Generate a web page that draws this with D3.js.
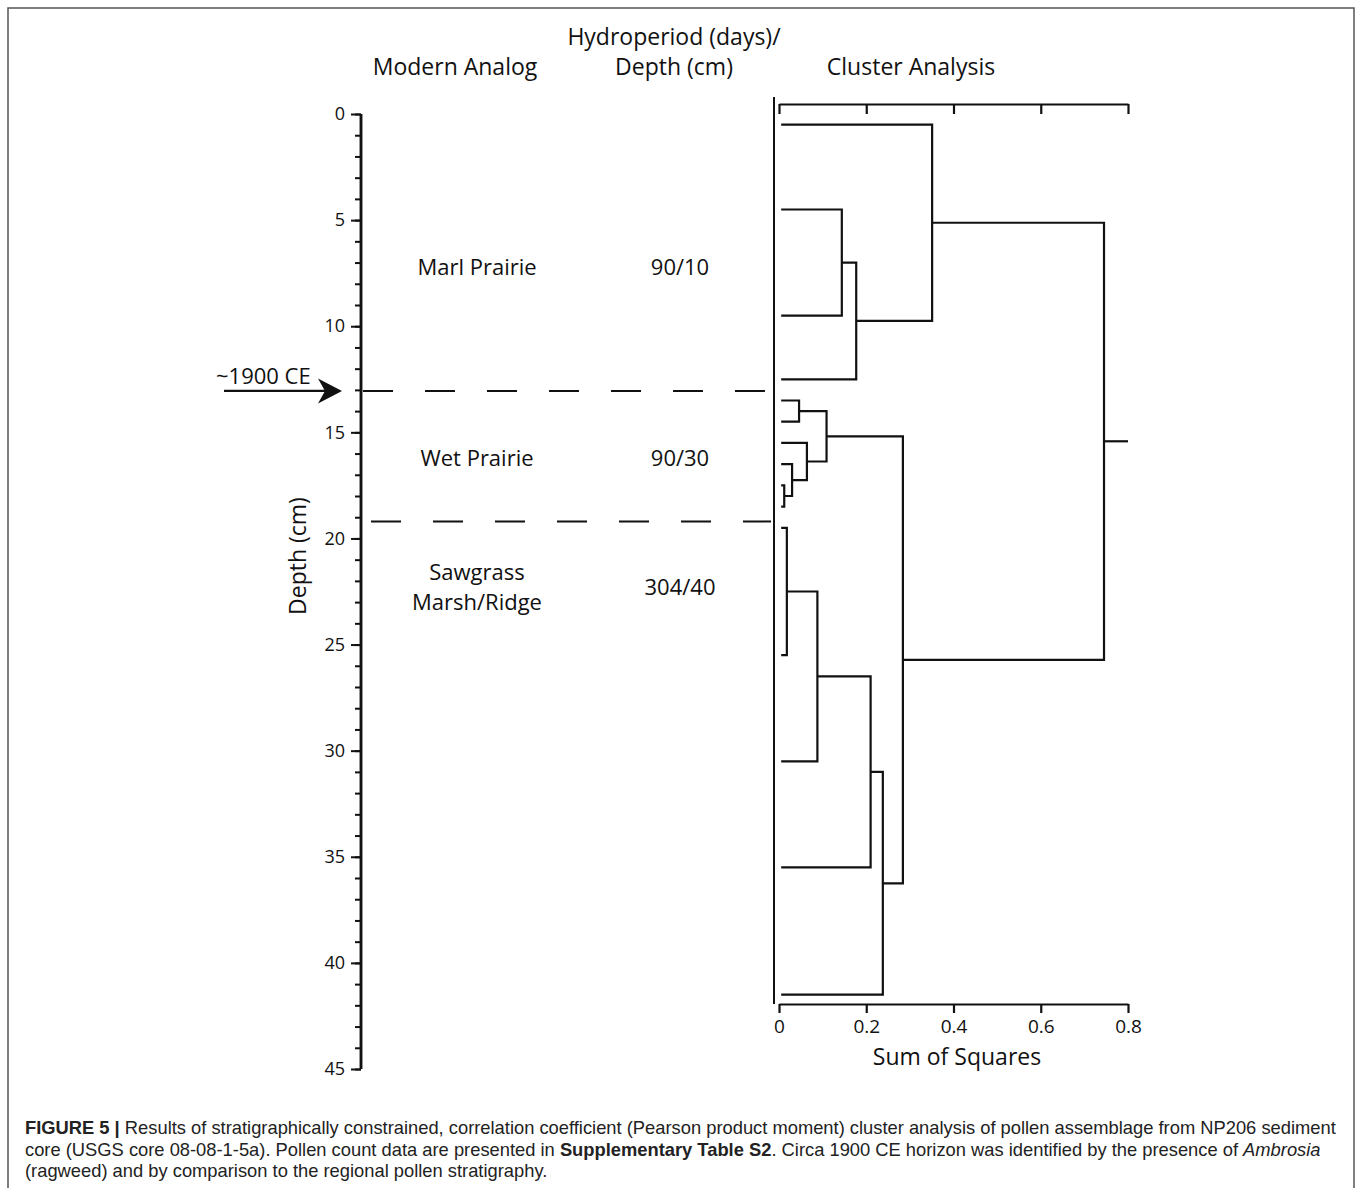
<!DOCTYPE html>
<html><head><meta charset="utf-8">
<script src="https://cdn.jsdelivr.net/npm/d3@7"></script>
<style>
html,body{margin:0;padding:0;background:#fff;}
svg{display:block;}
</style></head><body>
<svg id="chart" width="1358" height="1188"></svg>
<script>
// ---------- data ----------
const depthMajorTicks = [0, 5, 10, 15, 20, 25, 30, 35, 40, 45];
const depthMajorLabels = ["0", "5", "10", "15", "20", "25", "30", "35", "40", "45"];
const ssTicks = [0, 0.2, 0.4, 0.6, 0.8];
const ssTickLabels = ["0", "0.2", "0.4", "0.6", "0.8"];

// sample (leaf) depths, cm
const leafDepths = [0.5, 4.5, 9.5, 12.5, 13.5, 14.5, 15.5, 16.5, 17.5, 18.5, 19.5, 25.5, 30.5, 35.5, 41.5];
// merges: [left node, right node, sum of squares]; nodes >= 15 are earlier merges
const merges = [
  [1, 2, 0.144],
  [15, 3, 0.177],
  [0, 16, 0.351],
  [4, 5, 0.046],
  [8, 9, 0.012],
  [7, 19, 0.030],
  [6, 20, 0.064],
  [18, 21, 0.109],
  [10, 11, 0.018],
  [23, 12, 0.088],
  [24, 13, 0.210],
  [25, 14, 0.238],
  [22, 26, 0.284],
  [17, 27, 0.745]
];
const rootStubEnd = 0.8;
const leafStart = 0.005;

const zoneNames = [["Marl Prairie"], ["Wet Prairie"], ["Sawgrass", "Marsh/Ridge"]];
const zoneHydro = ["90/10", "90/30", "304/40"];
const zoneLabelDepth = [7.2, 16.2, 22.3];
const horizonDepths = [13.05, 19.2];
const horizonLabel = "~1900 CE";

// ---------- layout ----------
const svg = d3.select("#chart");
const font = "'Open Sans', 'Noto Sans', sans-serif";
const y = d3.scaleLinear().domain([0, 45]).range([114, 1069]);
const x = d3.scaleLinear().domain([0, 0.8]).range([779, 1128]);

// frame
svg.append("rect").attr("x", 8).attr("y", 8).attr("width", 1346).attr("height", 1210)
  .attr("fill", "none").attr("stroke", "#555").attr("stroke-width", 1.5);

// headers
const hdr = svg.append("g").attr("font-family", font).attr("font-size", 23)
  .attr("text-anchor", "middle").attr("fill", "#111");
hdr.append("text").attr("x", 455).attr("y", 75).text("Modern Analog");
hdr.append("text").attr("x", 674).attr("y", 45).text("Hydroperiod (days)/");
hdr.append("text").attr("x", 674).attr("y", 75).text("Depth (cm)");
hdr.append("text").attr("x", 911).attr("y", 75).text("Cluster Analysis");

// depth axis
const axL = svg.append("g").attr("transform", "translate(361,0)");
axL.call(d3.axisLeft(y).ticks(45).tickSize(6).tickFormat(""));
const axL2 = svg.append("g").attr("transform", "translate(361,0)");
axL2.call(d3.axisLeft(y).tickValues(depthMajorTicks).tickSize(10).tickPadding(6)
  .tickFormat((d, i) => depthMajorLabels[i]));
[axL, axL2].forEach(g => {
  g.selectAll("path.domain").attr("stroke", "#111").attr("stroke-width", 2.5);
  g.selectAll(".tick line").attr("stroke", "#111").attr("stroke-width", 2);
  g.selectAll(".tick text").attr("font-family", font).attr("font-size", 18).attr("fill", "#111");
});
axL.select("path.domain").attr("d", `M0,${y(0)}V${y(45)}`);
axL2.select("path.domain").attr("d", `M0,${y(0)}V${y(45)}`);

svg.append("text").attr("transform", `translate(306,556) rotate(-90)`)
  .attr("text-anchor", "middle").attr("font-family", font).attr("font-size", 23)
  .attr("fill", "#111").text("Depth (cm)");

// horizon dashed lines
const dashStarts = [363, 371];
const dashEnds = [765, 771];
horizonDepths.forEach((d, i) => {
  svg.append("line").attr("x1", dashStarts[i]).attr("x2", dashEnds[i])
    .attr("y1", y(d)).attr("y2", y(d))
    .attr("stroke", "#111").attr("stroke-width", 2).attr("stroke-dasharray", "30,32");
});

// arrow + label
const ay = y(horizonDepths[0]);
svg.append("line").attr("x1", 224).attr("x2", 326).attr("y1", ay).attr("y2", ay)
  .attr("stroke", "#111").attr("stroke-width", 2.2);
svg.append("path").attr("d", `M318,${ay - 12.5}L342,${ay}L318,${ay + 12.5}L325,${ay}Z`).attr("fill", "#111");
svg.append("text").attr("x", 216).attr("y", ay - 7).attr("font-family", font).attr("font-size", 22)
  .attr("fill", "#111").text(horizonLabel);

// zone labels
const zl = svg.append("g").attr("font-family", font).attr("font-size", 22)
  .attr("text-anchor", "middle").attr("fill", "#111");
zoneNames.forEach((lines, i) => {
  const cy = y(zoneLabelDepth[i]);
  const n = lines.length;
  lines.forEach((t, j) => {
    zl.append("text").attr("x", 477).attr("y", cy + (j - (n - 1) / 2) * 30).attr("dy", "0.36em").text(t);
  });
  zl.append("text").attr("x", 680).attr("y", cy).attr("dy", "0.36em").text(zoneHydro[i]);
});

// separator line
svg.append("line").attr("x1", 774).attr("x2", 774).attr("y1", 97).attr("y2", 1004)
  .attr("stroke", "#111").attr("stroke-width", 2);

// top axis (ticks only)
const axT = svg.append("g").attr("transform", "translate(0,104)")
  .call(d3.axisBottom(x).tickValues(ssTicks).tickSize(10).tickSizeOuter(0).tickFormat(""));
// bottom axis
const axB = svg.append("g").attr("transform", "translate(0,1004)")
  .call(d3.axisBottom(x).tickValues(ssTicks).tickSize(9).tickSizeOuter(0).tickPadding(7)
    .tickFormat((d, i) => ssTickLabels[i]));
[axT, axB].forEach(g => {
  g.selectAll("path.domain").attr("stroke", "#111").attr("stroke-width", 2.2);
  g.selectAll(".tick line").attr("stroke", "#111").attr("stroke-width", 2.2);
  g.selectAll(".tick text").attr("font-family", font).attr("font-size", 19).attr("fill", "#111");
});
svg.append("text").attr("x", 957).attr("y", 1065).attr("text-anchor", "middle")
  .attr("font-family", font).attr("font-size", 23).attr("fill", "#111").text("Sum of Squares");

// dendrogram
const nodes = leafDepths.map(d => ({ px: x(leafStart), py: y(d) }));
const dg = svg.append("g").attr("fill", "none").attr("stroke", "#111").attr("stroke-width", 2.2)
  .attr("stroke-linejoin", "miter");
merges.forEach(([a, b, h]) => {
  const A = nodes[a], B = nodes[b];
  const mx = x(h);
  dg.append("path").attr("d", `M${A.px},${A.py}H${mx}V${B.py}H${B.px}`);
  nodes.push({ px: mx, py: (A.py + B.py) / 2 });
});
const root = nodes[nodes.length - 1];
dg.append("path").attr("d", `M${root.px},${root.py}H${x(rootStubEnd)}`);

// caption
const cap = svg.append("text").attr("font-family", "'Liberation Sans', Arial, Helvetica, sans-serif")
  .attr("font-size", 17).attr("fill", "#222");
const l1 = cap.append("tspan").attr("x", 25).attr("y", 1134);
l1.append("tspan").attr("font-weight", "bold").text("FIGURE 5 | ");
l1.append("tspan").text("Results of stratigraphically constrained, correlation coefficient (Pearson product moment) cluster analysis of pollen assemblage from NP206 sediment");
const l2 = cap.append("tspan").attr("x", 25).attr("y", 1155.5);
l2.append("tspan").text("core (USGS core 08-08-1-5a). Pollen count data are presented in ");
l2.append("tspan").attr("font-weight", "bold").text("Supplementary Table S2");
l2.append("tspan").text(". Circa 1900 CE horizon was identified by the presence of ");
l2.append("tspan").attr("font-style", "italic").text("Ambrosia");
const l3 = cap.append("tspan").attr("x", 25).attr("y", 1177);
l3.append("tspan").text("(ragweed) and by comparison to the regional pollen stratigraphy.");
// fit caption width to the figure
const w1 = l1.node().getComputedTextLength();
cap.attr("font-size", 17 * 1312 / w1);
</script>
</body></html>
